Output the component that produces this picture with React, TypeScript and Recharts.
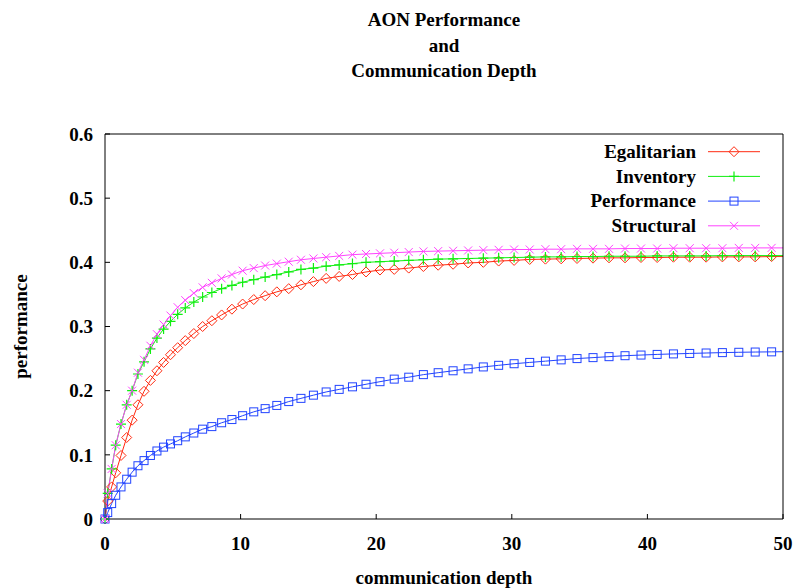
import { ComposedChart, Line, XAxis, YAxis, Legend } from 'recharts'

// communication depth of each sample (shared by all four series)
const depth = [
  0, 0.2, 0.49, 0.79, 1.18, 1.6, 2.0, 2.43, 2.88, 3.35,
  3.83, 4.32, 4.83, 5.36, 5.92, 6.55, 7.2, 7.88, 8.6, 9.36,
  10.15, 10.97, 11.81, 12.67, 13.55, 14.45, 15.37, 16.31, 17.27, 18.25,
  19.25, 20.28, 21.33, 22.4, 23.48, 24.57, 25.67, 26.78, 27.9, 29.03,
  30.17, 31.32, 32.48, 33.64, 34.81, 35.99, 37.17, 38.35, 39.53, 40.72,
  41.92, 43.12, 44.33, 45.53, 46.74, 47.95, 49.16, 50.37,
]

const egalitarian = [
  0, 0.028, 0.05, 0.072, 0.099, 0.127, 0.154, 0.178, 0.199, 0.216,
  0.231, 0.244, 0.256, 0.267, 0.278, 0.289, 0.3, 0.309, 0.318, 0.327,
  0.335, 0.342, 0.348, 0.354, 0.359, 0.365, 0.37, 0.375, 0.378, 0.381,
  0.385, 0.388, 0.389, 0.391, 0.3935, 0.3955, 0.397, 0.399, 0.4, 0.402,
  0.403, 0.4045, 0.405, 0.4055, 0.406, 0.4065, 0.407, 0.407, 0.4075, 0.4075,
  0.408, 0.408, 0.408, 0.4085, 0.4085, 0.4085, 0.409, 0.409,
]

const inventory = [
  0, 0.04, 0.078, 0.115, 0.148, 0.178, 0.2, 0.226, 0.245, 0.265,
  0.282, 0.296, 0.308, 0.319, 0.329, 0.338, 0.346, 0.353, 0.359, 0.364,
  0.369, 0.373, 0.377, 0.381, 0.385, 0.389, 0.391, 0.394, 0.396, 0.398,
  0.4, 0.401, 0.402, 0.403, 0.404, 0.405, 0.4055, 0.406, 0.4065, 0.407,
  0.4075, 0.408, 0.4085, 0.4085, 0.409, 0.409, 0.4095, 0.4095, 0.4095, 0.41,
  0.41, 0.41, 0.41, 0.4105, 0.4105, 0.4105, 0.4105, 0.4105,
]

const performance = [
  0, 0.01, 0.024, 0.037, 0.05, 0.062, 0.073, 0.083, 0.091, 0.099,
  0.106, 0.112, 0.117, 0.122, 0.128, 0.134, 0.14, 0.144, 0.15, 0.155,
  0.161, 0.167, 0.172, 0.177, 0.183, 0.188, 0.193, 0.198, 0.202, 0.206,
  0.21, 0.214, 0.218, 0.221, 0.225, 0.228, 0.231, 0.234, 0.237, 0.2395,
  0.242, 0.244, 0.246, 0.248, 0.25, 0.2515, 0.253, 0.2545, 0.2555, 0.2565,
  0.2573, 0.258, 0.2587, 0.2593, 0.2598, 0.2602, 0.2605, 0.2608,
]

const structural = [
  0, 0.04, 0.078, 0.115, 0.148, 0.178, 0.2, 0.228, 0.248, 0.27,
  0.288, 0.303, 0.317, 0.33, 0.341, 0.352, 0.361, 0.368, 0.375, 0.381,
  0.387, 0.391, 0.395, 0.398, 0.401, 0.404, 0.406, 0.408, 0.41, 0.412,
  0.413, 0.414, 0.415, 0.416, 0.417, 0.4175, 0.418, 0.4185, 0.419, 0.4195,
  0.42, 0.42, 0.4205, 0.4205, 0.421, 0.421, 0.421, 0.4215, 0.4215, 0.4215,
  0.422, 0.422, 0.422, 0.422, 0.4225, 0.4225, 0.4225, 0.4225,
]

const xTicks = [0, 10, 20, 30, 40, 50]
const yTicks = [0, 0.1, 0.2, 0.3, 0.4, 0.5, 0.6]

const FONT = '"Liberation Serif", "Times New Roman", serif'

const rows = depth.map((x, i) => ({
  x,
  egalitarian: egalitarian[i],
  inventory: inventory[i],
  performance: performance[i],
  structural: structural[i],
}))
// the last sample lies just past the frame: only its line segment shows
const markerRows = rows.slice(0, rows.length - 1)

type MarkProps = { cx: number; cy: number; color: string }

function Diamond({ cx, cy, color }: MarkProps) {
  const r = 5
  return <path d={`M${cx},${cy - r}L${cx + r},${cy}L${cx},${cy + r}L${cx - r},${cy}Z`} fill="none" stroke={color} strokeWidth={1} />
}

function Plus({ cx, cy, color }: MarkProps) {
  const r = 5
  return <path d={`M${cx - r},${cy}H${cx + r}M${cx},${cy - r}V${cy + r}`} fill="none" stroke={color} strokeWidth={1.2} />
}

function Square({ cx, cy, color }: MarkProps) {
  const r = 4
  return <rect x={cx - r} y={cy - r} width={2 * r} height={2 * r} fill="none" stroke={color} strokeWidth={1} />
}

function Cross({ cx, cy, color }: MarkProps) {
  const r = 4
  return <path d={`M${cx - r},${cy - r}L${cx + r},${cy + r}M${cx - r},${cy + r}L${cx + r},${cy - r}`} fill="none" stroke={color} strokeWidth={1} />
}

const series = [
  { key: 'egalitarian', name: 'Egalitarian', color: '#ff2a10', Mark: Diamond },
  { key: 'inventory', name: 'Inventory', color: '#10ee10', Mark: Plus },
  { key: 'performance', name: 'Performance', color: '#2244ff', Mark: Square },
  { key: 'structural', name: 'Structural', color: '#ff44ff', Mark: Cross },
]

function KeyBox() {
  return (
    <svg width={230} height={100}>
      {series.map((s, i) => {
        const y = 13.7 + i * 24.7
        return (
          <g key={s.key}>
            <text x={136} y={y + 6.3} textAnchor="end" fontFamily={FONT} fontWeight="bold" fontSize={19} fill="#000">
              {s.name}
            </text>
            <line x1={148} x2={200} y1={y} y2={y} stroke={s.color} strokeWidth={1} />
            <s.Mark cx={174} cy={y} color={s.color} />
          </g>
        )
      })}
    </svg>
  )
}

const tickStyle = { fill: '#000', fontSize: 19, fontWeight: 'bold', fontFamily: FONT }

export default function App() {
  return (
    <div style={{ position: 'absolute', left: 0, top: 0, width: 799, height: 588, background: '#fff' }}>
      <div
        style={{
          position: 'absolute',
          left: 244,
          top: 7,
          width: 400,
          textAlign: 'center',
          fontFamily: FONT,
          fontWeight: 'bold',
          fontSize: 19,
          lineHeight: '25.5px',
          zIndex: 1,
        }}
      >
        <div>AON Performance</div>
        <div>and</div>
        <div>Communication Depth</div>
      </div>
      <ComposedChart width={799} height={588} margin={{ top: 0, right: 0, bottom: 0, left: 0 }}>
        <XAxis
          xAxisId="b"
          dataKey="x"
          type="number"
          domain={[0, 50]}
          allowDataOverflow
          ticks={xTicks}
          height={69}
          tickSize={-5}
          tickMargin={23}
          tick={tickStyle}
          axisLine={{ stroke: '#000' }}
          tickLine={{ stroke: '#000' }}
          label={{ value: 'communication depth', position: 'insideBottom', offset: 4, fill: '#000', fontSize: 19, fontWeight: 'bold', fontFamily: FONT }}
        />
        <XAxis
          xAxisId="t"
          orientation="top"
          dataKey="x"
          type="number"
          domain={[0, 50]}
          ticks={xTicks}
          height={134}
          tickSize={-5}
          tick={false}
          axisLine={{ stroke: '#000' }}
          tickLine={{ stroke: '#000' }}
        />
        <YAxis
          yAxisId="l"
          type="number"
          domain={[0, 0.6]}
          ticks={yTicks}
          width={105}
          tickSize={-5}
          tickMargin={17}
          tick={tickStyle}
          axisLine={{ stroke: '#000' }}
          tickLine={{ stroke: '#000' }}
          label={{ value: 'performance', angle: -90, position: 'insideLeft', offset: 20, fill: '#000', fontSize: 19, fontWeight: 'bold', fontFamily: FONT, style: { textAnchor: 'middle' } }}
        />
        <YAxis
          yAxisId="r"
          orientation="right"
          type="number"
          domain={[0, 0.6]}
          ticks={yTicks}
          width={16}
          tickSize={-5}
          tick={false}
          axisLine={{ stroke: '#000' }}
          tickLine={{ stroke: '#000' }}
        />
        <Legend
          layout="vertical"
          align="center"
          verticalAlign="middle"
          content={() => <KeyBox />}
          wrapperStyle={{ left: 560, top: 138, width: 230, height: 100 }}
        />
        {series.map((s) => (
          <Line
            key={`${s.key}-line`}
            data={rows}
            xAxisId="b"
            yAxisId="l"
            dataKey={s.key}
            name={s.name}
            type="linear"
            stroke={s.color}
            strokeWidth={1}
            dot={false}
            activeDot={false}
            isAnimationActive={false}
          />
        ))}
        {series.map((s) => (
          <Line
            key={`${s.key}-marks`}
            data={markerRows}
            xAxisId="t"
            yAxisId="l"
            dataKey={s.key}
            stroke="none"
            legendType="none"
            activeDot={false}
            isAnimationActive={false}
            dot={(p: any) => <s.Mark key={`${s.key}-${p.index}`} cx={p.cx} cy={p.cy} color={s.color} />}
          />
        ))}
      </ComposedChart>
    </div>
  )
}
